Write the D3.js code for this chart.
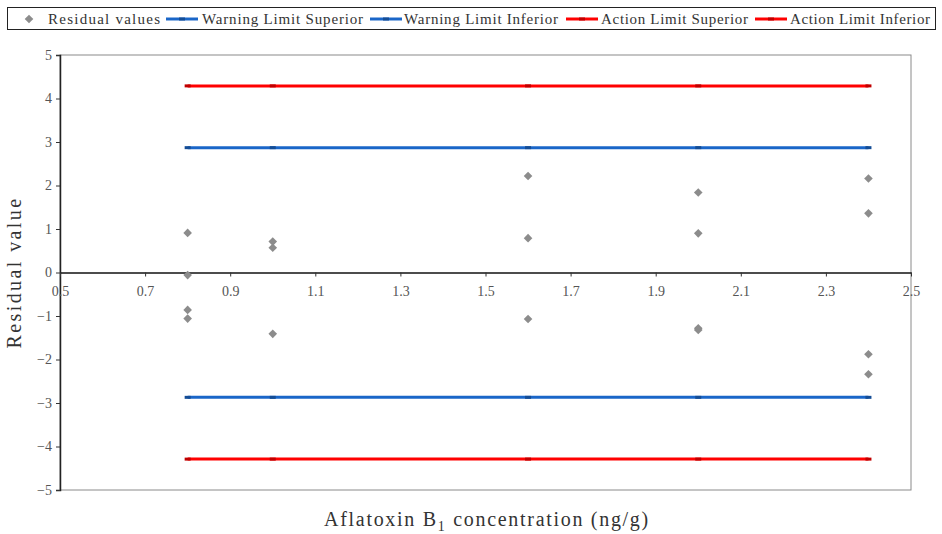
<!DOCTYPE html>
<html>
<head>
<meta charset="utf-8">
<script src="https://cdn.jsdelivr.net/npm/d3@7"></script>
<style>
  body { margin: 0; background: #fff; }
  svg { display: block; }
  text { font-family: "Liberation Serif", "DejaVu Serif", serif; }
</style>
</head>
<body>
<svg id="chart" width="942" height="534"></svg>
<script>
// Concentration levels where the limits are evaluated
const levels = [0.8, 1.0, 1.6, 2.0, 2.4];

// Residuals of the calibration points
const residX = [0.8, 0.8, 0.8, 0.8, 1.0, 1.0, 1.0, 1.6, 1.6, 1.6, 2.0, 2.0, 2.0, 2.0, 2.4, 2.4, 2.4, 2.4];
const residY = [0.91, -0.06, -0.86, -1.06, 0.71, 0.57, -1.41, 2.22, 0.79, -1.07, 1.84, 0.90, -1.28, -1.32, 2.16, 1.36, -1.88, -2.34];

// Control limits
const warningSup = [2.87, 2.87, 2.87, 2.87, 2.87];
const warningInf = [-2.87, -2.87, -2.87, -2.87, -2.87];
const actionSup = [4.29, 4.29, 4.29, 4.29, 4.29];
const actionInf = [-4.29, -4.29, -4.29, -4.29, -4.29];

const xTicks = [0.5, 0.7, 0.9, 1.1, 1.3, 1.5, 1.7, 1.9, 2.1, 2.3, 2.5];
const yTicks = [5, 4, 3, 2, 1, 0, -1, -2, -3, -4, -5];

const BLUE = "#1a66c8";
const RED = "#ff0000";
const GREY = "#8c8c8c";
const SERIF = "'Liberation Serif', 'DejaVu Serif', serif";

const svg = d3.select("#chart");
const plotL = 60, plotR = 911, plotT = 55, plotB = 490;

const x = d3.scaleLinear().domain([0.5, 2.5]).range([plotL, plotR]);
const y = d3.scaleLinear().domain([-5, 5]).range([plotB, plotT]);

// Square diamond marker
const diamondPath = r => `M0,${-r}L${r},0L0,${r}L${-r},0Z`;

// Plot frame
svg.append("rect")
  .attr("x", plotL).attr("y", plotT)
  .attr("width", plotR - plotL).attr("height", plotB - plotT)
  .attr("fill", "none").attr("stroke", "#8a8a8a").attr("stroke-width", 1);

// Y axis
const yAxis = svg.append("g")
  .attr("transform", `translate(${plotL},0)`)
  .call(d3.axisLeft(y).tickValues(yTicks).tickSize(4).tickFormat(d => d < 0 ? "\u2212" + Math.abs(d) : d));
yAxis.select(".domain").attr("stroke", "#222").attr("stroke-width", 1.5);
yAxis.selectAll(".tick line").attr("stroke", "#333");
yAxis.selectAll(".tick text")
  .attr("fill", "#555").attr("x", -8)
  .style("font-family", SERIF).style("font-size", "14px");

// X axis drawn along y = 0
const xAxis = svg.append("g")
  .attr("transform", `translate(0,${y(0)})`)
  .call(d3.axisBottom(x).tickValues(xTicks).tickSize(4).tickSizeOuter(0).tickFormat(d3.format(".1f")));
xAxis.select(".domain").attr("stroke", "#111").attr("stroke-width", 1.3);
xAxis.selectAll(".tick line").attr("stroke", "#333");
xAxis.selectAll(".tick text")
  .attr("fill", "#555").attr("y", 14)
  .style("font-family", SERIF).style("font-size", "14px");

// Limit lines with small markers at each level
const limitSeries = [
  { values: actionSup, color: RED },
  { values: actionInf, color: RED },
  { values: warningSup, color: BLUE },
  { values: warningInf, color: BLUE }
];
const line = d3.line().x((d, i) => x(levels[i])).y(d => y(d));
limitSeries.forEach(s => {
  svg.append("path")
    .attr("d", line(s.values))
    .attr("fill", "none").attr("stroke", s.color).attr("stroke-width", 3);
  svg.append("g").selectAll("rect")
    .data(s.values)
    .join("rect")
    .attr("x", (d, i) => x(levels[i]) - 3)
    .attr("y", d => y(d) - 1.5)
    .attr("width", 6).attr("height", 3)
    .attr("fill", d3.color(s.color).darker(0.8));
});

// Residual points
svg.append("g").selectAll("path")
  .data(residY)
  .join("path")
  .attr("d", diamondPath(4.3))
  .attr("transform", (d, i) => `translate(${x(residX[i])},${y(d)})`)
  .attr("fill", GREY);

// Axis titles
svg.append("text")
  .attr("transform", `translate(21,${(plotT + plotB) / 2}) rotate(-90)`)
  .attr("text-anchor", "middle")
  .style("font-size", "20px").style("letter-spacing", "2.4px")
  .attr("fill", "#333")
  .text("Residual value");

const xt = svg.append("text")
  .attr("x", 487).attr("y", 526)
  .attr("text-anchor", "middle")
  .style("font-size", "20px").style("letter-spacing", "1.7px")
  .attr("fill", "#333");
xt.append("tspan").text("Aflatoxin B");
xt.append("tspan").style("font-size", "14px").attr("dy", 5).text("1");
xt.append("tspan").attr("dy", -5).text(" concentration (ng/g)");

// Legend
const legend = svg.append("g");
legend.append("rect")
  .attr("x", 7.5).attr("y", 7.5).attr("width", 928).attr("height", 22)
  .attr("fill", "#fff").attr("stroke", "#222").attr("stroke-width", 1);

const legendItems = [
  { label: "Residual values", type: "point", sx: 29, tx: 48, tw: 112 },
  { label: "Warning Limit Superior", type: "line", color: BLUE, sx: 166, tx: 202, tw: 161 },
  { label: "Warning Limit Inferior", type: "line", color: BLUE, sx: 370, tx: 404, tw: 154 },
  { label: "Action Limit Superior", type: "line", color: RED, sx: 566, tx: 601, tw: 147 },
  { label: "Action Limit Inferior", type: "line", color: RED, sx: 755, tx: 790, tw: 140 }
];
const ly = 19;
legendItems.forEach(it => {
  if (it.type === "point") {
    legend.append("path").attr("d", diamondPath(4.3))
      .attr("transform", `translate(${it.sx},${ly})`).attr("fill", GREY);
  } else {
    legend.append("line")
      .attr("x1", it.sx).attr("x2", it.sx + 32)
      .attr("y1", ly).attr("y2", ly)
      .attr("stroke", it.color).attr("stroke-width", 3);
    legend.append("rect")
      .attr("x", it.sx + 13).attr("y", ly - 1.5).attr("width", 6).attr("height", 3)
      .attr("fill", d3.color(it.color).darker(0.8));
  }
  legend.append("text")
    .attr("x", it.tx).attr("y", ly + 5)
    .style("font-size", "15px").attr("fill", "#333")
    .attr("textLength", it.tw).attr("lengthAdjust", "spacing")
    .text(it.label);
});
</script>
</body>
</html>
